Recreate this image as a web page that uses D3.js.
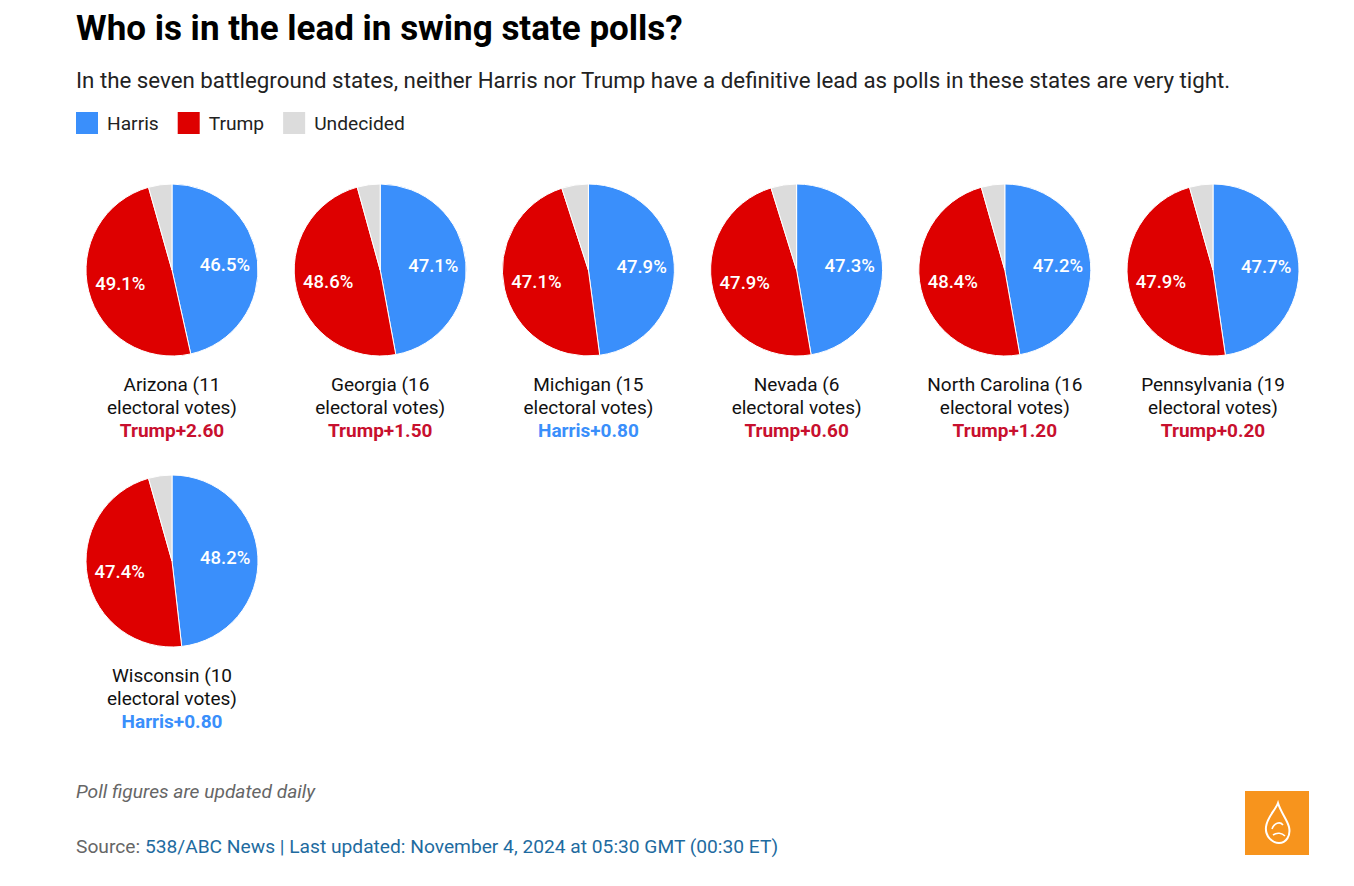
<!DOCTYPE html>
<html><head><meta charset="utf-8">
<script src="https://cdn.jsdelivr.net/npm/d3@7"></script>
<style>
body{margin:0;background:#fff;font-family:Roboto,"Noto Sans",sans-serif;}
</style></head>
<body><svg id="c" width="1354" height="886"></svg>
<script>
const states = ["Arizona","Georgia","Michigan","Nevada","North Carolina","Pennsylvania","Wisconsin"];
const votes = [11,16,15,6,16,19,10];
const harris = [46.5,47.1,47.9,47.3,47.2,47.7,48.2];
const trump = [49.1,48.6,47.1,47.9,48.4,47.9,47.4];
const leadLabels = ["Trump+2.60","Trump+1.50","Harris+0.80","Trump+0.60","Trump+1.20","Trump+0.20","Harris+0.80"];
const seriesNames = ["Harris","Trump","Undecided"];
const colors = {Harris:"#3a8ffb",Trump:"#de0000",Undecided:"#dcdcdc"};

const svg = d3.select("#c");
svg.append("text").attr("x",76).attr("y",40).attr("font-size",35).attr("font-weight",700).attr("fill","#000")
  .text("Who is in the lead in swing state polls?");
svg.append("text").attr("x",76).attr("y",88).attr("font-size",22.3).attr("fill","#222")
  .text("In the seven battleground states, neither Harris nor Trump have a definitive lead as polls in these states are very tight.");

// legend
let lx = 76;
const leg = svg.append("g");
seriesNames.forEach(n=>{
  leg.append("rect").attr("x",lx).attr("y",112).attr("width",22).attr("height",22).attr("fill",colors[n]);
  const t = leg.append("text").attr("x",lx+31).attr("y",130).attr("font-size",19.2).attr("fill","#222").text(n);
  lx += 31 + t.node().getComputedTextLength() + 19;
});

const r = 86;
const pie = d3.pie().sort(null).value(d=>d.v);
const arc = d3.arc().innerRadius(0).outerRadius(r);
const labelArc = d3.arc().innerRadius(r*0.62).outerRadius(r*0.62);
const xPos = d3.scalePoint().domain(d3.range(6)).range([172,1213]);

states.forEach((s,i)=>{
  const col = i%6, row = Math.floor(i/6);
  const cx = xPos(col), cy = 270 + row*291;
  const data = [{k:"Harris",v:harris[i]},{k:"Trump",v:trump[i]},{k:"Undecided",v:+(100-harris[i]-trump[i]).toFixed(1)}];
  const g = svg.append("g").attr("transform",`translate(${cx},${cy})`);
  const arcs = pie(data);
  g.selectAll("path").data(arcs).join("path").attr("d",arc).attr("fill",d=>colors[d.data.k])
    .attr("stroke","#fff").attr("stroke-width",1);
  g.selectAll("text.v").data(arcs.filter(d=>d.data.k!=="Undecided")).join("text").attr("class","v")
    .attr("transform",d=>`translate(${labelArc.centroid(d)})`).attr("text-anchor","middle").attr("dy","0.35em")
    .attr("font-size",18.5).attr("font-weight",500).attr("fill","#fff").text(d=>d.data.v.toFixed(1)+"%");
  g.append("text").attr("y",121).attr("text-anchor","middle").attr("font-size",19).attr("fill","#111")
    .text(`${s} (${votes[i]}`);
  g.append("text").attr("y",144).attr("text-anchor","middle").attr("font-size",19).attr("fill","#111")
    .text("electoral votes)");
  g.append("text").attr("y",167).attr("text-anchor","middle").attr("font-size",19).attr("font-weight",700)
    .attr("fill",leadLabels[i].startsWith("Harris")?"#3a8ffb":"#c8102e").text(leadLabels[i]);
});

svg.append("text").attr("x",76).attr("y",798).attr("font-size",19.2).attr("font-style","italic").attr("fill","#666")
  .text("Poll figures are updated daily");
const src = svg.append("text").attr("x",76).attr("y",853).attr("font-size",19.2);
src.append("tspan").attr("fill","#666").text("Source: ");
src.append("tspan").attr("fill","#1e6ba0").text("538/ABC News | Last updated: November 4, 2024 at 05:30 GMT (00:30 ET)");

// logo
const logo = svg.append("g").attr("transform","translate(1245,791)");
logo.append("rect").attr("width",64).attr("height",64).attr("fill","#f7941d");
logo.append("path").attr("d","M33,12 C30,20 22,26 21,36 C20,45 27,52 34,52 C41,52 46,45 44,36 C42,28 36,22 33,12 Z")
  .attr("fill","none").attr("stroke","#fff").attr("stroke-width",2);
logo.append("path").attr("d","M27,38 C29,32 35,30 38,34 M28,44 C32,41 37,42 40,45")
  .attr("fill","none").attr("stroke","#fff").attr("stroke-width",1.6);
</script></body></html>
